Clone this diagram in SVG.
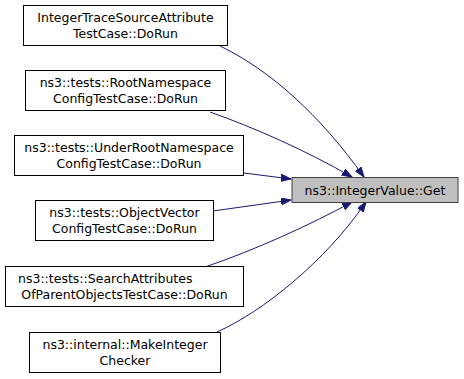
<svg xmlns="http://www.w3.org/2000/svg" width="464" height="379" viewBox="0 0 464 379">
  <style>
    .node rect { fill: #ffffff; stroke: #000000; stroke-width: 1; }
    .node.current rect { fill: #bfbfbf; stroke: #404040; }
    .node text { font-family: "DejaVu Sans", sans-serif; font-size: 12.5px; text-anchor: middle; fill: #000000; }
    .node text.left { text-anchor: start; }
    .edge { fill: none; stroke: #191970; stroke-width: 1; marker-end: url(#arrow); }
  </style>
  <defs>
    <marker id="arrow" markerUnits="userSpaceOnUse" markerWidth="11" markerHeight="8" refX="10" refY="3.5" orient="auto">
      <path d="M0,0 L10,3.5 L0,7 Z" fill="#191970" stroke="#191970" stroke-width="1"/>
    </marker>
  </defs>

  <!-- call edges: every caller points at IntegerValue::Get -->
  <g id="edges">
    <path class="edge" d="M220,46 C270,70 320,115 364,177"/>
    <path class="edge" d="M210,112 C255,128 305,150 352,177"/>
    <path class="edge" d="M244,173 L291,179"/>
    <path class="edge" d="M213,211 L291,200"/>
    <path class="edge" d="M205,267 C255,250 310,225 352,202"/>
    <path class="edge" d="M217,332 C262,312 325,262 366,202"/>
  </g>

  <g id="node-get" class="node current">
    <rect x="292" y="177.5" width="166" height="25"/>
    <text x="375" y="194.5">ns3::IntegerValue::Get</text>
  </g>

  <g id="node-tracesource" class="node">
    <rect x="23.5" y="5.5" width="204" height="40"/>
    <text x="125.5" y="22">IntegerTraceSourceAttribute</text>
    <text x="125.5" y="38">TestCase::DoRun</text>
  </g>

  <g id="node-rootns" class="node">
    <rect x="25.5" y="70.5" width="200" height="40"/>
    <text x="125.5" y="87">ns3::tests::RootNamespace</text>
    <text x="125.5" y="103">ConfigTestCase::DoRun</text>
  </g>

  <g id="node-underrootns" class="node">
    <rect x="14.5" y="135.5" width="229" height="40"/>
    <text x="129" y="152">ns3::tests::UnderRootNamespace</text>
    <text x="129" y="168">ConfigTestCase::DoRun</text>
  </g>

  <g id="node-objectvector" class="node">
    <rect x="35.5" y="200.5" width="178" height="40"/>
    <text x="124.5" y="217">ns3::tests::ObjectVector</text>
    <text x="124.5" y="233">ConfigTestCase::DoRun</text>
  </g>

  <g id="node-searchattr" class="node">
    <rect x="5.5" y="266.5" width="238" height="40"/>
    <text class="left" x="18" y="283">ns3::tests::SearchAttributes</text>
    <text x="124.5" y="299">OfParentObjectsTestCase::DoRun</text>
  </g>

  <g id="node-makeinteger" class="node">
    <rect x="29.5" y="332.5" width="191" height="40"/>
    <text x="125" y="349">ns3::internal::MakeInteger</text>
    <text x="125" y="365">Checker</text>
  </g>
</svg>
